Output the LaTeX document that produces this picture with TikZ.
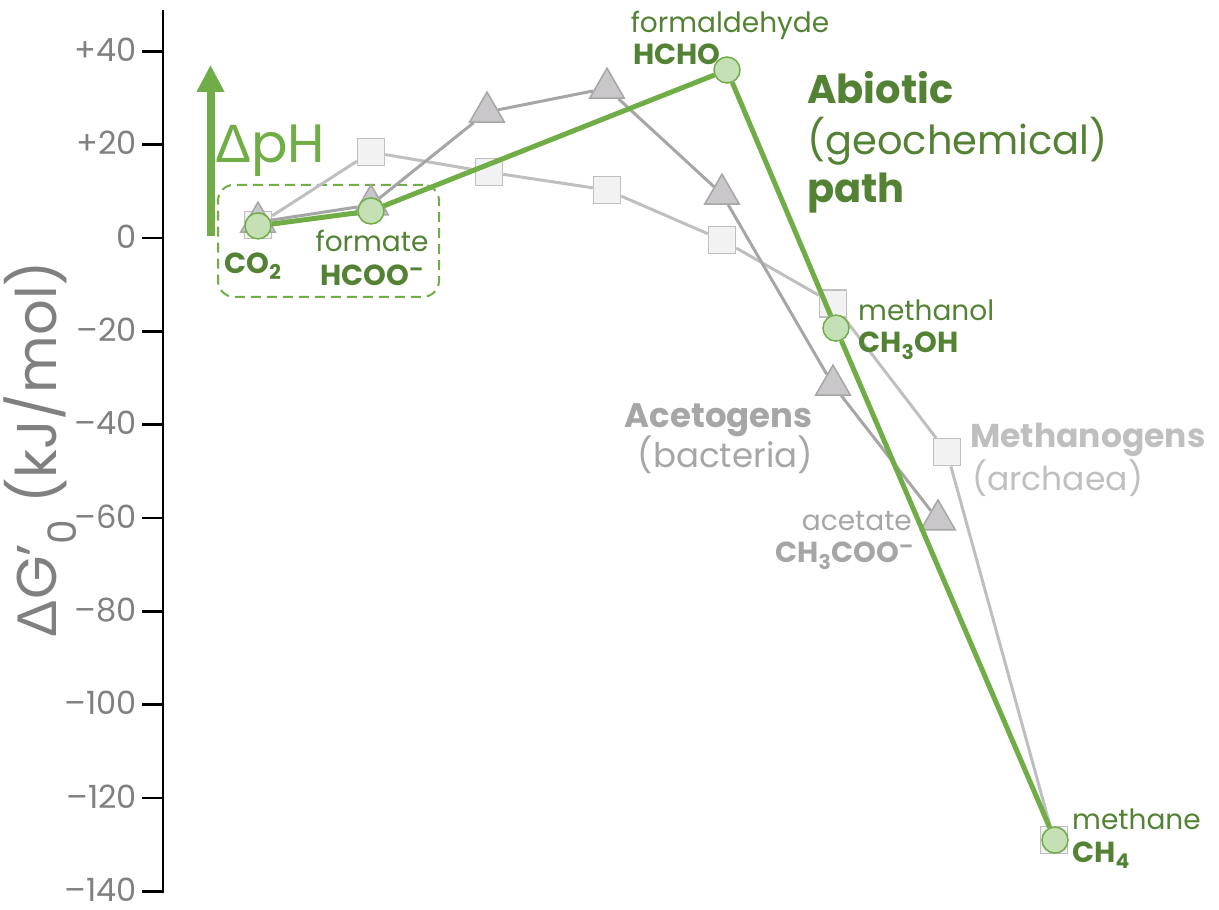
\documentclass[tikz,border=0pt]{standalone}
\usepackage{fontspec}
\setmainfont{Poppins}
\newfontfamily\deltafont{Liberation Sans}
\usetikzlibrary{shapes.geometric,arrows.meta}
\definecolor{abgreen}{HTML}{70AD47}
\definecolor{abdark}{HTML}{548235}
\definecolor{abfill}{HTML}{C5E0B4}
\definecolor{sqfill}{HTML}{F2F2F2}
\definecolor{sqline}{HTML}{BFBFBF}
\definecolor{trifill}{HTML}{C9C7C9}
\definecolor{triline}{HTML}{A6A6A6}
\definecolor{ticktext}{HTML}{808080}
\newcommand{\fsz}[1]{\fontsize{#1}{#1}\selectfont}
\begin{document}
\begin{tikzpicture}[x=1pt, y=4.667pt,
  every node/.style={font=\fsz{28}, inner sep=0pt},
  axisline/.style={black, line width=2.5pt},
  ticklbl/.style={anchor=base east, text=ticktext, font=\fsz{32}},
  sqmark/.style={rectangle, draw=sqline, fill=sqfill, line width=1.5pt, minimum size=27pt},
  trimark/.style={regular polygon, regular polygon sides=3, draw=triline, fill=trifill, line width=1.5pt, minimum size=40pt},
  cmark/.style={circle, draw=abgreen, fill=abfill, line width=1.5pt, minimum size=26pt},
  mline/.style={sqline, line width=3pt},
  aline/.style={triline, line width=3pt},
  gline/.style={abgreen, line width=5pt},
  glbl/.style={text=abdark},
  gbold/.style={text=abdark, font=\fsz{29}\bfseries},
  phbox/.style={draw=abgreen, dash pattern=on 10pt off 6pt, line width=2pt, rounded corners=16pt, minimum width=221pt, minimum height=112pt},
]
  \useasboundingbox (0,51.0) rectangle (1219,-143.8);

  % axis and ticks
  \draw[axisline] (163,48.9) -- (163,-140) -- (142,-140);
  \foreach \v in {40,20,0,-20,-40,-60,-80,-100,-120} {
    \draw[axisline] (142,\v) -- (163,\v);
  }
  \foreach \v/\t in {40/+40, 20/+20, 0/0, -20/–20, -40/–40, -60/–60, -80/–80, -100/–100, -120/–120, -140/–140} {
    \node[ticklbl] (tl\v) at (137,\v-2.2) {\t};
  }
  \node[rotate=90, text=ticktext, font=\fsz{56}] (ylab) at (40,-45.2)
    {{\deltafont Δ}G'\textsubscript{0} (kJ/mol)};

  % pH gradient
  \coordinate (phlow) at (210.5,0.4);
  \coordinate (phhigh) at (210.5,37.1);
  \draw[abgreen, line width=8pt, -{Triangle[length=27pt,width=26pt]}] (phlow) -- (phhigh);
  \node[anchor=base west, text=abgreen, font=\fsz{54}] (dph) at (215,16.1) {{\deltafont Δ}pH};
  \node[phbox] (phframe) at (328.5,-0.6) {};

  % methanogens
  \foreach \i/\px/\v in {1/258/2.8, 2/371/18.4, 3/489/14.1, 4/607/10.3, 5/722/-0.4, 6/833/-14.0, 7/947/-45.9, 8/1054/-129.0}
    \node[sqmark] (sq\i) at (\px,\v) {};
  \foreach \i [count=\j from 2] in {1,...,7}
    \draw[mline] (sq\i) -- (sq\j);

  % acetogens
  \foreach \i/\px/\v in {1/258/3.4, 2/371/7.1, 3/487/27.0, 4/607/32.1, 5/722/9.4, 6/833/-31.5, 7/938/-60.4}
    \node[trimark] (tr\i) at (\px,\v) {};
  \foreach \i [count=\j from 2] in {1,...,6}
    \draw[aline] (tr\i) -- (tr\j);

  % abiotic path
  \node[cmark] (co2) at (258,2.6) {};
  \node[cmark] (hcoo) at (371,5.8) {};
  \node[cmark] (hcho) at (727,36.0) {};
  \node[cmark] (meoh) at (836,-19.3) {};
  \node[cmark] (ch4) at (1055,-129.0) {};
  \draw[gline] (co2) -- (hcoo);
  \draw[gline] (hcoo) -- (hcho);
  \draw[gline] (hcho) -- (meoh);
  \draw[gline] (meoh) -- (ch4);

  % labels
  \node[gbold, anchor=base] (co2lbl) at (253,-7.5) {CO\textsubscript{2}};
  \node[glbl, anchor=base] (formlbl) at (372,-2.8) {formate};
  \node[gbold, anchor=base] (hcoolbl) at (372,-10.1) {HCOO\textsuperscript{–}};
  \node[glbl, anchor=base] (fald) at (730,44.1) {formaldehyde};
  \node[gbold, anchor=base west] (hcholbl) at (633,37.1) {HCHO};
  \node[glbl, anchor=base west] (meolbl) at (858,-17.6) {methanol};
  \node[gbold, anchor=base west] (ch3oh) at (858,-24.6) {CH\textsubscript{3}OH};
  \node[glbl, anchor=base west] (ch4lbl) at (1072,-126.8) {methane};
  \node[gbold, anchor=base west] (ch4f) at (1072,-133.9) {CH\textsubscript{4}};
  \node[text=triline, anchor=base east] (acelbl) at (912,-62.6) {acetate};
  \node[text=triline, anchor=base east, font=\fsz{29}\bfseries] (acef) at (914,-69.6) {CH\textsubscript{3}COO\textsuperscript{–}};

  \node[text=abdark, anchor=base west, font=\fsz{40}\bfseries] (abio) at (807,28.9) {Abiotic};
  \node[text=abdark, anchor=base west, font=\fsz{40}] (geo) at (807,17.8) {(geochemical)};
  \node[text=abdark, anchor=base west, font=\fsz{40}\bfseries] (pathlbl) at (807,7.7) {path};

  \node[text=triline, anchor=base east, font=\fsz{34}\bfseries] (acet) at (813,-40.5) {Acetogens};
  \node[text=triline, anchor=base east, font=\fsz{34}] (bact) at (813,-49.1) {(bacteria)};
  \node[text=sqline, anchor=base west, font=\fsz{33}\bfseries] (meth) at (970,-44.8) {Methanogens};
  \node[text=sqline, anchor=base west, font=\fsz{33}] (arch) at (972,-54.0) {(archaea)};
\end{tikzpicture}
\end{document}
